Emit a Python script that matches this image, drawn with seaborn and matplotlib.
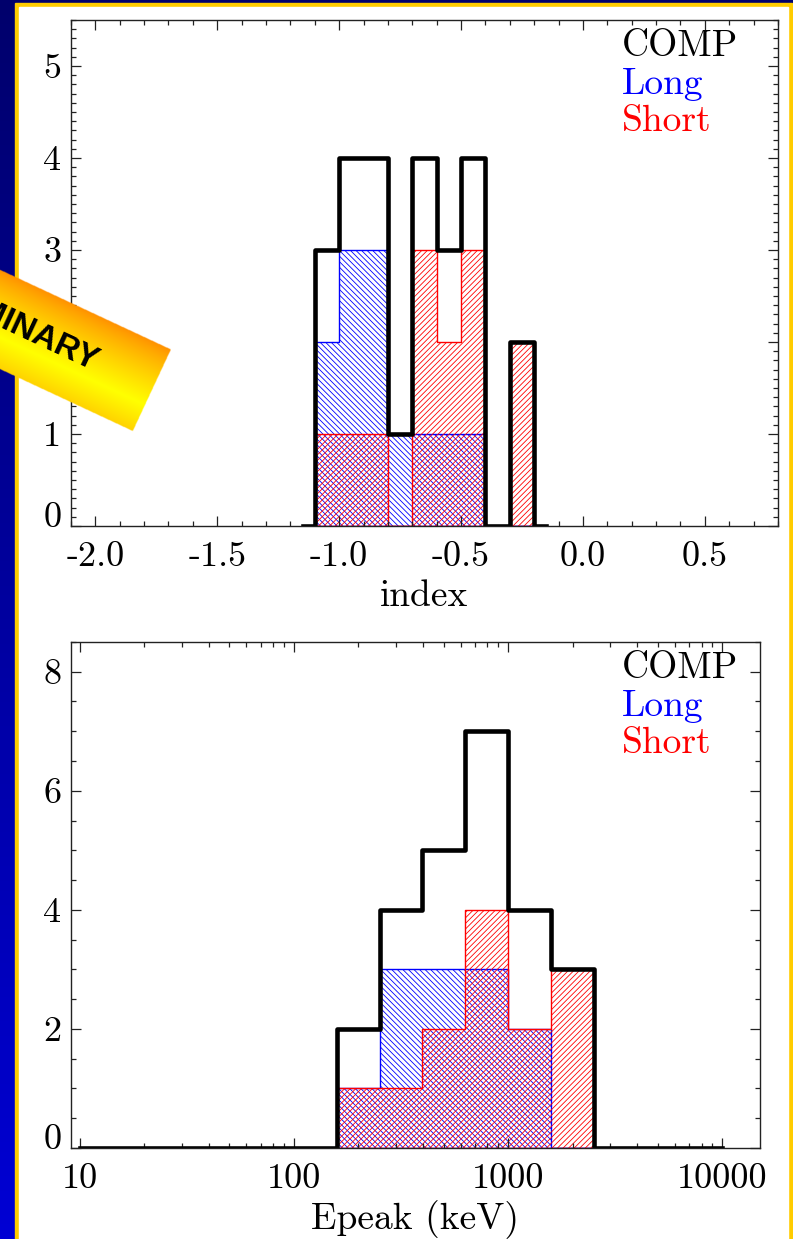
import numpy as np
import matplotlib
matplotlib.use("Agg")
import matplotlib.pyplot as plt
import seaborn as sns
from matplotlib.patches import Rectangle
from matplotlib.ticker import MultipleLocator
from matplotlib.colors import LinearSegmentedColormap
from matplotlib.transforms import ScaledTranslation

# ---- spectral index histogram (bins of 0.1)
index_edges = [-1.1, -1.0, -0.9, -0.8, -0.7, -0.6, -0.5, -0.4, -0.3, -0.2]
index_long = [2, 3, 3, 1, 1, 1, 1, 0, 0]
index_short = [1, 1, 1, 0, 3, 2, 3, 0, 2]
# COMP total drawn through the bin centres, IDL psym=10 style
index_comp_x = [-1.15, -1.05, -0.95, -0.85, -0.75, -0.65, -0.55, -0.45, -0.35, -0.25, -0.15]
index_comp = [0, 3, 4, 4, 1, 4, 3, 4, 0, 2, 0]

# ---- Epeak histogram (log bins of 0.2 dex, 10 - 10000 keV)
epeak_centers = [200, 316, 501, 794, 1259, 1995]
epeak_comp = [2, 4, 5, 7, 4, 3]
epeak_long = [1, 3, 3, 3, 2, 0]
epeak_short = [1, 1, 2, 4, 2, 3]

index_ticks = [-2.0, -1.5, -1.0, -0.5, 0.0, 0.5]
index_ticklabels = ["-2.0", "-1.5", "-1.0", "-0.5", "0.0", "0.5"]
epeak_ticks = [10, 100, 1000, 10000]
epeak_ticklabels = ["10", "100", "1000", "10000"]
names = ["COMP", "Long", "Short"]
name_colors = ["black", "blue", "red"]

plt.rcParams["font.family"] = "cmr10"
plt.rcParams["axes.unicode_minus"] = False
plt.rcParams["axes.formatter.use_mathtext"] = True
plt.rcParams["hatch.linewidth"] = 0.6

W, H = 793, 1239
fig = plt.figure(figsize=(W / 100, H / 100), dpi=100)
fig.patch.set_facecolor("#000080")

# slide background: blue gradient, yellow frame, white panel
bg = fig.add_axes([0, 0, 1, 1], zorder=-5)
navy = LinearSegmentedColormap.from_list("navy", ["#00006c", "#0000d4"])
bg.imshow(np.linspace(0, 1, 256)[:, None], cmap=navy, extent=(0, W, H, 0), aspect="auto")
bg.add_patch(Rectangle((15, 3), 777, H, color="#ffcc00"))
bg.add_patch(Rectangle((19, 7), 769, H, color="white"))
bg.set_xlim(0, W)
bg.set_ylim(H, 0)
bg.axis("off")

ax1 = fig.add_axes([0.0895, 0.5755, 0.8916, 0.4084])
ax2 = fig.add_axes([0.0895, 0.0735, 0.8689, 0.4084])

blue_hatch = "\\" * 6
red_hatch = "/" * 6

# ---- top panel: index
index_mid = [e + 0.05 for e in index_edges[:-1]]
sns.histplot(x=index_mid, weights=index_long, bins=index_edges, element="step", fill=True,
             color="blue", facecolor="none", edgecolor="blue", hatch=blue_hatch, linewidth=1, ax=ax1)
sns.histplot(x=index_mid, weights=index_short, bins=index_edges, element="step", fill=True,
             color="red", facecolor="none", edgecolor="red", hatch=red_hatch, linewidth=1, ax=ax1)
sns.lineplot(x=index_comp_x, y=index_comp, drawstyle="steps-mid", color="black",
             linewidth=3.3, errorbar=None, ax=ax1)
ax1.set_xlim(-2.1, 0.8)
ax1.set_ylim(0, 5.5)
ax1.set_xticks(index_ticks, labels=index_ticklabels)
ax1.set_yticks([0, 1, 2, 3, 4, 5], labels=["0", "1", "2", "3", "4", "5"])
ax1.xaxis.set_minor_locator(MultipleLocator(0.1))
ax1.yaxis.set_minor_locator(MultipleLocator(0.1))
ax1.set_xlabel("index", fontsize=27, labelpad=5)
ax1.set_ylabel("")

# ---- bottom panel: Epeak
sns.histplot(x=epeak_centers, weights=epeak_long, binwidth=0.2, binrange=(1, 4), log_scale=True,
             element="step", fill=True, color="blue", facecolor="none", edgecolor="blue",
             hatch=blue_hatch, linewidth=1, ax=ax2)
sns.histplot(x=epeak_centers, weights=epeak_short, binwidth=0.2, binrange=(1, 4), log_scale=True,
             element="step", fill=True, color="red", facecolor="none", edgecolor="red",
             hatch=red_hatch, linewidth=1, ax=ax2)
sns.histplot(x=epeak_centers, weights=epeak_comp, binwidth=0.2, binrange=(1, 4), log_scale=True,
             element="step", fill=False, color="black", linewidth=3.3, ax=ax2)
ax2.set_xlim(9.1, 15000)
ax2.set_ylim(0, 8.5)
ax2.set_xticks(epeak_ticks, labels=epeak_ticklabels)
ax2.set_yticks([0, 2, 4, 6, 8], labels=["0", "2", "4", "6", "8"])
ax2.yaxis.set_minor_locator(MultipleLocator(0.5))
ax2.set_xlabel("Epeak (keV)", fontsize=27, labelpad=4)
ax2.set_ylabel("")

for ax, xt in [(ax1, 0.779), (ax2, 0.80)]:
    ax.tick_params(which="both", direction="in", top=True, right=True, width=0.9, color="#222222")
    ax.tick_params(which="major", length=7, labelsize=26)
    ax.tick_params(which="minor", length=3.5)
    ax.tick_params(axis="x", pad=11)
    ax.tick_params(axis="y", pad=7)
    for s in ax.spines.values():
        s.set_linewidth(1.0)
        s.set_color("#222222")
    # IDL puts the zero label a bit above the axis
    zero = ax.yaxis.get_major_ticks()[0].label1
    zero.set_transform(zero.get_transform() + ScaledTranslation(0, 8 / 72, fig.dpi_scale_trans))
    for i, (name, c) in enumerate(zip(names, name_colors)):
        ax.text(xt, 0.947 - 0.074 * i, name, color=c, fontsize=27, ha="left", va="center",
                transform=ax.transAxes)

# ---- PRELIMINARY banner laid over the slide
ov = fig.add_axes([0, 0, 1, 1], zorder=10)
ang = np.deg2rad(25)
cx, cy, half_len, half_w = -7, 316, 175, 45
X, Y = np.meshgrid(np.arange(0, 200, 0.5), np.arange(200, 460, 0.5))
u = (X - cx) * np.cos(ang) + (Y - cy) * np.sin(ang)
v = -(X - cx) * np.sin(ang) + (Y - cy) * np.cos(ang)
t = (v + half_w) / (2 * half_w)
w = np.clip(1 - np.abs(t - 0.68) / 0.68, 0, 1) ** 0.8
orange = np.array([1.0, 0.56, 0.0])
yellow = np.array([1.0, 1.0, 0.0])
rgb = orange + (yellow - orange) * w[..., None]
alpha = ((np.abs(u) <= half_len) & (np.abs(v) <= half_w)).astype(float)
ov.imshow(np.dstack([rgb, alpha]), extent=(0, 200, 460, 200), interpolation="bilinear", aspect="auto")
ov.text(cx, cy, "PRELIMINARY", rotation=-25, rotation_mode="anchor", ha="center", va="center",
        fontsize=24, fontweight="bold", family="Liberation Sans", color="black")
ov.set_xlim(0, W)
ov.set_ylim(H, 0)
ov.axis("off")

fig.savefig("out.png", dpi=100, facecolor=fig.get_facecolor())
